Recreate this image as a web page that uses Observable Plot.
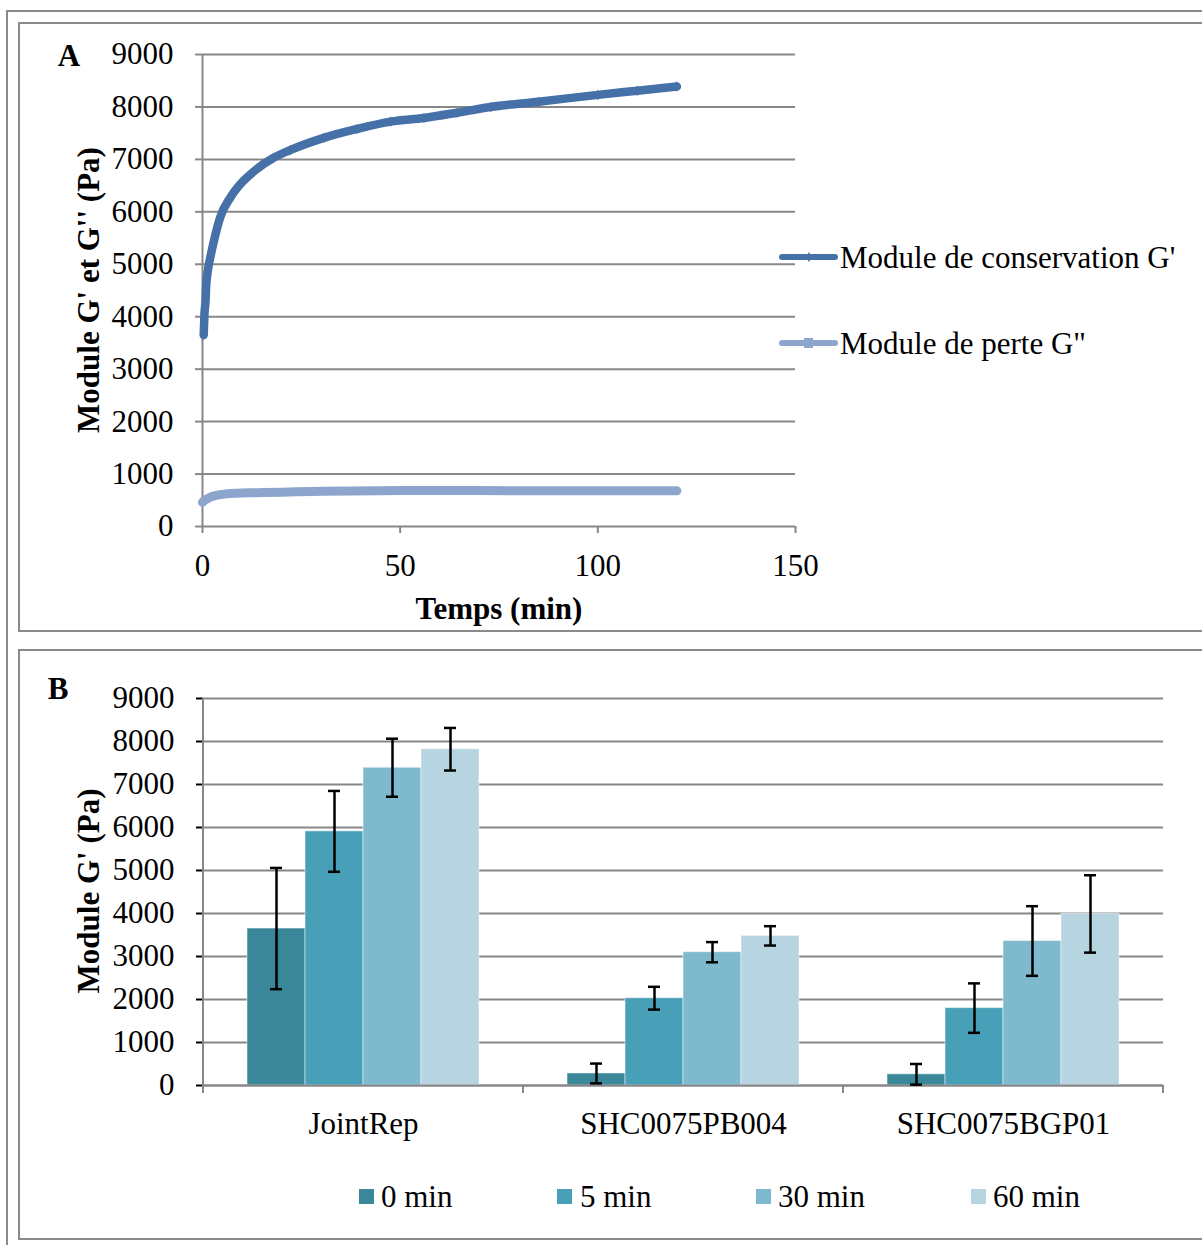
<!DOCTYPE html>
<html>
<head>
<meta charset="utf-8">
<script src="https://cdn.jsdelivr.net/npm/d3@7"></script>
<script src="https://cdn.jsdelivr.net/npm/@observablehq/plot@0.6"></script>
<style>
html,body{margin:0;padding:0;background:#fff;}
body{width:1202px;height:1245px;overflow:hidden;position:relative;font-family:"Liberation Serif","Times New Roman",serif;color:#000;}
.box{position:absolute;border:2px solid #8a8a8a;box-sizing:border-box;}
.t{position:absolute;white-space:nowrap;font-size:31px;line-height:1;}
.b{font-weight:bold;}
.c{transform:translate(-50%,-50%);}
.rot{transform:translate(-50%,-50%) rotate(-90deg);}
.vm{transform:translateY(-50%);}
.holder{position:absolute;left:0;}
svg [aria-label="y-axis tick"], svg [aria-label="x-axis tick"]{stroke:#878787;stroke-width:2px;}
svg [aria-label="y-axis"] line, svg [aria-label="x-axis"] line{stroke:#878787;stroke-width:2px;}
.sw{position:absolute;}
</style>
</head>
<body>
<div class="box" style="left:6px;top:10px;width:1300px;height:1300px;"></div>
<div class="box" style="left:18px;top:22px;width:1300px;height:610px;"></div>
<div class="box" style="left:18px;top:649px;width:1300px;height:591px;"></div>

<div id="plotA" class="holder" style="top:0px;"></div>
<div id="plotB" class="holder" style="top:640px;"></div>

<div class="t b c" style="left:69px;top:55px;">A</div>
<div class="t b c" style="left:58px;top:688px;">B</div>
<div class="t b rot" style="left:88px;top:290px;">Module G' et G'' (Pa)</div>
<div class="t b rot" style="left:88px;top:891px;">Module G' (Pa)</div>
<div class="t b c" style="left:499px;top:608px;">Temps (min)</div>

<div id="legendA"></div>
<div id="legendB"></div>

<script>
// ---------- Panel A data ----------
const seriesA = ["Module de conservation G'", "Module de perte G\""];
const timeG1 = [0.3, 0.5, 0.8, 0.9, 1.35, 2.0, 2.9, 4.5, 7.1, 9.6, 13.8, 18, 22.3, 30.7, 39.1, 47.6, 56, 64.4, 72.9, 85, 100, 110, 120];
const valueG1 = [3650, 4060, 4340, 4550, 4880, 5140, 5450, 5900, 6280, 6530, 6820, 7030, 7180, 7410, 7580, 7720, 7790, 7890, 8000, 8100, 8230, 8310, 8390];
const timeG2 = [0, 0.5, 1, 2, 3, 5, 8, 14, 20, 31, 56, 81, 100, 120];
const valueG2 = [460, 500, 520, 560, 585, 612, 632, 645, 655, 673, 686, 682, 681, 680];
const xTicksA = [0, 50, 100, 150];
const yTicksA = [0, 1000, 2000, 3000, 4000, 5000, 6000, 7000, 8000, 9000];

// ---------- Panel B data ----------
const categories = ["JointRep", "SHC0075PB004", "SHC0075BGP01"];
const times = ["0 min", "5 min", "30 min", "60 min"];
const mean0 = [3650, 280, 260];
const mean5 = [5910, 2030, 1800];
const mean30 = [7390, 3100, 3360];
const mean60 = [7820, 3480, 3990];
const err0 = [1410, 230, 240];
const err5 = [940, 265, 575];
const err30 = [675, 235, 810];
const err60 = [495, 225, 900];
const yTicksB = [0, 1000, 2000, 3000, 4000, 5000, 6000, 7000, 8000, 9000];

// ---------- styles ----------
const gridColor = "#878787";
const colorG1 = "#4571A8";
const colorG2 = "#8DA5CC";
const colorsB = ["#3A8799", "#48A0B8", "#7EB9CE", "#B7D5E0"];
const svgStyle = {fontFamily: '"Liberation Serif","Times New Roman",serif', fontSize: "31px", background: "transparent", overflow: "visible", color: "#000"};

const dataG1 = timeG1.map((t, i) => ({t, v: valueG1[i]}));
const dataG2 = timeG2.map((t, i) => ({t, v: valueG2[i]}));

const plotA = Plot.plot({
  width: 1202, height: 640,
  marginLeft: 202, marginRight: 407, marginTop: 54, marginBottom: 114,
  style: svgStyle,
  x: {domain: [0, 150], ticks: xTicksA, tickSize: 7, tickPadding: 20, label: null, tickFormat: d => String(d)},
  y: {domain: [0, 9000], ticks: yTicksA, tickSize: 7, tickPadding: 22, label: null, tickFormat: d => String(d)},
  marks: [
    Plot.ruleY(yTicksA, {stroke: gridColor, strokeWidth: 2}),
    Plot.ruleX([0], {stroke: gridColor, strokeWidth: 2}),
    Plot.line(dataG2, {x: "t", y: "v", stroke: colorG2, strokeWidth: 9, curve: "monotone-x", strokeLinecap: "round"}),
    Plot.line(dataG1, {x: "t", y: "v", stroke: colorG1, strokeWidth: 8.5, curve: "monotone-x"}),
    Plot.dot(dataG1, {x: "t", y: "v", symbol: "diamond", r: 3.2, fill: colorG1})
  ]
});
document.getElementById("plotA").appendChild(plotA);

// ---------- Panel B ----------
const means = [mean0, mean5, mean30, mean60];
const errs = [err0, err5, err30, err60];
const barData = [];
categories.forEach((cat, ci) => {
  times.forEach((tm, ti) => {
    const v = means[ti][ci], e = errs[ti][ci];
    barData.push({cat, time: tm, value: v, lo: Math.max(0, v - e), hi: v + e});
  });
});

const plotB = Plot.plot({
  width: 1202, height: 600,
  marginLeft: 202, marginRight: 38, marginTop: 58, marginBottom: 155,
  style: svgStyle,
  fx: {domain: categories, paddingInner: 0, paddingOuter: 0, axis: "bottom", tickSize: 0, tickPadding: 26, label: null},
  x: {domain: times, paddingInner: 0, paddingOuter: 0.75, axis: null, label: null},
  y: {domain: [0, 9000], ticks: yTicksB, tickSize: 7, tickPadding: 22, label: null, tickFormat: d => String(d)},
  color: {domain: times, range: colorsB},
  marks: [
    Plot.ruleY(yTicksB, {stroke: gridColor, strokeWidth: 2}),
    Plot.barY(barData, {fx: "cat", x: "time", y: "value", fill: "time", stroke: "#ffffff", strokeWidth: 1, strokeOpacity: 0.5}),
    Plot.ruleY([0], {stroke: gridColor, strokeWidth: 2}),
    Plot.ruleX(barData, {fx: "cat", x: "time", y1: "lo", y2: "hi", stroke: "#000", strokeWidth: 2.5}),
    Plot.tickY(barData, {fx: "cat", x: "time", y: "hi", stroke: "#000", strokeWidth: 2.5, insetLeft: 23, insetRight: 23}),
    Plot.tickY(barData, {fx: "cat", x: "time", y: "lo", stroke: "#000", strokeWidth: 2.5, insetLeft: 23, insetRight: 23})
  ]
});
document.getElementById("plotB").appendChild(plotB);

// axis line and category separators from the plot's own scales
(function () {
  const fxS = plotB.scale("fx");
  const yS = plotB.scale("y");
  const bw = fxS.bandwidth != null ? fxS.bandwidth : (fxS.range[1] - fxS.range[0]) / categories.length;
  const edges = categories.map(c => fxS.apply(c));
  edges.push(edges[edges.length - 1] + bw);
  const y0 = yS.apply(0), yTop = yS.apply(9000);
  const g = d3.select(plotB).append("g").attr("stroke", gridColor).attr("stroke-width", 2);
  g.selectAll("line.sep").data(edges).join("line").attr("class", "sep")
    .attr("x1", d => d).attr("x2", d => d).attr("y1", y0).attr("y2", y0 + 8);
  g.append("line").attr("x1", edges[0]).attr("x2", edges[0]).attr("y1", yTop).attr("y2", y0);
})();

// ---------- Legends ----------
(function () {
  const la = document.getElementById("legendA");
  const rows = [
    {label: seriesA[0], color: colorG1, top: 257, marker: "diamond", w: 6},
    {label: seriesA[1], color: colorG2, top: 343, marker: "square", w: 6}
  ];
  rows.forEach(r => {
    const s = document.createElementNS("http://www.w3.org/2000/svg", "svg");
    s.setAttribute("width", 60); s.setAttribute("height", 20);
    s.setAttribute("class", "sw");
    s.style.left = "778px"; s.style.top = (r.top - 10) + "px";
    const sel = d3.select(s);
    sel.append("line").attr("x1", 4).attr("x2", 57).attr("y1", 10).attr("y2", 10)
      .attr("stroke", r.color).attr("stroke-width", r.w).attr("stroke-linecap", "round");
    if (r.marker === "diamond") {
      sel.append("path").attr("d", "M31,5L34,10L31,15L28,10Z").attr("fill", r.color);
    } else {
      sel.append("rect").attr("x", 26).attr("y", 5).attr("width", 9).attr("height", 10).attr("fill", r.color);
    }
    la.appendChild(s);
    const t = document.createElement("div");
    t.className = "t vm"; t.style.left = "840px"; t.style.top = r.top + "px";
    t.textContent = r.label;
    la.appendChild(t);
  });

  const lb = document.getElementById("legendB");
  const sqLeft = [359, 557, 756, 971];
  const txLeft = [381, 580, 778, 993];
  times.forEach((tm, i) => {
    const sq = document.createElement("div");
    sq.style.cssText = `position:absolute;left:${sqLeft[i]}px;top:1189px;width:15px;height:15px;background:${colorsB[i]};`;
    lb.appendChild(sq);
    const t = document.createElement("div");
    t.className = "t vm"; t.style.left = txLeft[i] + "px"; t.style.top = "1196px";
    t.textContent = tm;
    lb.appendChild(t);
  });
})();
</script>
</body>
</html>
